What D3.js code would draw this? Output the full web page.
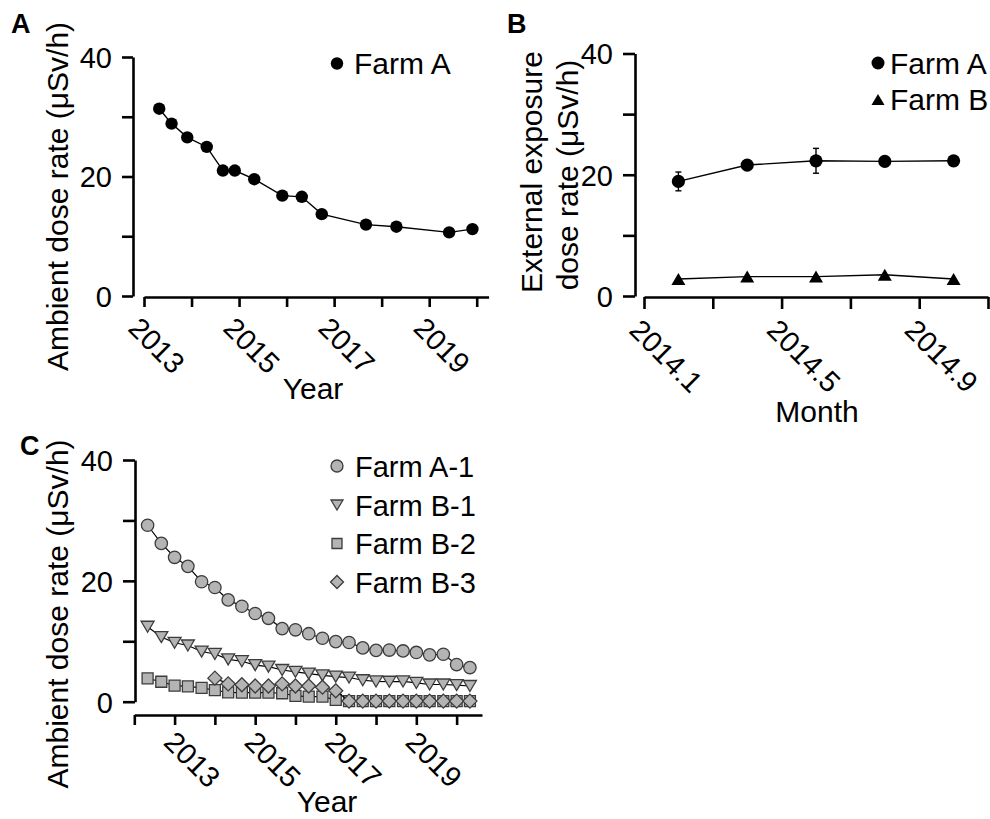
<!DOCTYPE html>
<html>
<head>
<meta charset="utf-8">
<script src="https://cdn.jsdelivr.net/npm/d3@7"></script>
<style>
  body { margin: 0; background: #fff; }
  text { font-family: "Liberation Sans", Arial, Helvetica, sans-serif; fill: #000; }
</style>
</head>
<body>
<svg id="fig" width="990" height="819"></svg>
<script>
// ---- Panel A: ambient dose rate, Farm A
var yearsA = [2013.32, 2013.58, 2013.91, 2014.32, 2014.66, 2014.91, 2015.32, 2015.91, 2016.32, 2016.74, 2017.67, 2018.31, 2019.42, 2019.91];
var doseA  = [31.35, 28.85, 26.55, 24.95, 21.0, 21.0, 19.55, 16.8, 16.6, 13.7, 11.95, 11.6, 10.65, 11.2];
var yearTicksA = [2013, 2014, 2015, 2016, 2017, 2018, 2019, 2020];
var yearLabels = [2013, 2015, 2017, 2019];

// ---- Panel B: external exposure dose rate by month (2014)
var monthsB = [2, 4, 6, 8, 10];
var farmA_B = [18.9, 21.6, 22.3, 22.2, 22.3];
var farmA_Berr = [1.55, 0.4, 2.05, 0.4, 0.4];
var farmB_B = [2.8, 3.2, 3.2, 3.5, 2.8];
var monthTicks = [1, 3, 5, 7, 9, 11];
var monthLabels = {1: "2014.1", 5: "2014.5", 9: "2014.9"};

// ---- Panel C: ambient dose rate, four farms
var yearsC = [2012.33, 2012.67, 2013.00, 2013.33, 2013.67, 2014.00, 2014.33, 2014.67, 2015.00, 2015.33,
              2015.67, 2016.00, 2016.33, 2016.67, 2017.00, 2017.33, 2017.67, 2018.00, 2018.33, 2018.67,
              2019.00, 2019.33, 2019.67, 2020.00, 2020.33];
var farmA1 = [29.2, 26.2, 23.9, 22.4, 19.85, 18.9, 16.85, 15.8, 14.6, 13.8, 12.1, 11.9, 11.25, 10.5, 9.95,
              9.8, 8.9, 8.5, 8.55, 8.4, 8.15, 7.75, 7.85, 6.15, 5.65];
var farmB1 = [12.4, 10.7, 9.75, 9.3, 8.3, 7.9, 7.0, 6.7, 6.05, 5.8, 5.25, 4.95, 4.65, 4.35, 4.15,
              4.0, 3.55, 3.35, 3.3, 3.35, 3.1, 2.85, 2.85, 2.75, 2.6];
var farmB2 = [3.85, 3.3, 2.65, 2.55, 2.3, 1.9, 1.55, 1.5, 1.5, 1.5, 1.4, 0.95, 0.85, 0.85, 0.3,
              0.1, 0.1, 0.1, 0.1, 0.1, 0.1, 0.1, 0.1, 0.1, 0.1];
var farmB3 = [null, null, null, null, null, 3.9, 2.95, 2.8, 2.6, 2.6, 2.95, 2.6, 2.6, 2.4, 1.8,
              0.1, 0.1, 0.1, 0.1, 0.1, 0.1, 0.1, 0.1, 0.1, 0.1];
var yearTicksC = [2012, 2013, 2014, 2015, 2016, 2017, 2018, 2019, 2020];

var doseTicks = [0, 10, 20, 30, 40];

var svg = d3.select("#fig");
var AXW = 2.6, FS = 29, TFS = 30;
var GRAY = "#b4b4b4", EDGE = "#3c3c3c";

// symbol paths centred on the bounding box
function triUp(w, h) { return "M0," + (-h / 2) + "L" + (w / 2) + "," + (h / 2) + "L" + (-w / 2) + "," + (h / 2) + "Z"; }
function triDown(w, h) { return "M0," + (h / 2) + "L" + (w / 2) + "," + (-h / 2) + "L" + (-w / 2) + "," + (-h / 2) + "Z"; }
function square(s) { return "M" + (-s / 2) + "," + (-s / 2) + "h" + s + "v" + s + "h" + (-s) + "Z"; }
function diamond(s) { return "M0," + (-s / 2) + "L" + (s / 2) + ",0L0," + (s / 2) + "L" + (-s / 2) + ",0Z"; }

function styleAxis(g) {
  g.attr("font-size", FS).attr("font-family", null);
  g.select(".domain").attr("stroke", "#000").attr("stroke-width", AXW);
  g.selectAll(".tick line").attr("stroke", "#000").attr("stroke-width", AXW);
}

function yAxis(y, x0, len) {
  var g = svg.append("g").attr("transform", "translate(" + x0 + ",0)")
    .call(d3.axisLeft(y).tickValues(doseTicks)
      .tickFormat(function (d) { return d % 20 === 0 ? d : ""; })
      .tickSize(len).tickSizeOuter(0).tickPadding(10));
  styleAxis(g);
  g.selectAll(".tick text").attr("dy", "0.36em");
  return g;
}

function xAxis(x, y0, ticks, fmt, len, dx, dy) {
  var g = svg.append("g").attr("transform", "translate(0," + y0 + ")")
    .call(d3.axisBottom(x).tickValues(ticks).tickFormat(fmt).tickSize(len).tickSizeOuter(0));
  styleAxis(g);
  g.selectAll(".tick text")
    .attr("text-anchor", "start").attr("x", 0).attr("y", 0).attr("dy", "0.72em")
    .attr("transform", "translate(" + dx + "," + dy + ") rotate(45)");
  return g;
}

function label(txt, x, y, opts) {
  opts = opts || {};
  var t = svg.append("text").attr("x", x).attr("y", y).text(txt)
    .attr("font-size", opts.size || FS)
    .attr("text-anchor", opts.anchor || "start");
  if (opts.bold) t.attr("font-weight", "bold");
  if (opts.rotate) t.attr("transform", "rotate(-90," + x + "," + y + ")");
  return t;
}

// ---------------- Panel A ----------------
(function () {
  var x = d3.scaleLinear().domain([2013, 2020.25]).range([144, 488.6]);
  var y = d3.scaleLinear().domain([0, 40]).range([296, 57]);
  yAxis(y, 133, 11);
  xAxis(x, 297, yearTicksA, function (d) { return yearLabels.indexOf(d) >= 0 ? d : ""; }, 10, -3, 18);

  var pts = yearsA.map(function (d, i) { return [x(d), y(doseA[i])]; });
  svg.append("path").attr("d", d3.line()(pts)).attr("fill", "none").attr("stroke", "#000").attr("stroke-width", 1.4);
  svg.append("g").selectAll("circle").data(pts).join("circle")
    .attr("cx", function (d) { return d[0]; }).attr("cy", function (d) { return d[1]; })
    .attr("r", 6.2).attr("fill", "#000");

  svg.append("circle").attr("cx", 337).attr("cy", 63.5).attr("r", 6.2).attr("fill", "#000");
  label("Farm A", 354, 74, { size: 30 });

  label("Ambient dose rate (\u03bcSv/h)", 68, 196.5, { rotate: true, anchor: "middle", size: TFS });
  label("Year", 313, 399, { anchor: "middle", size: TFS });
  label("A", 11, 33, { bold: true, size: 27 });
})();

// ---------------- Panel B ----------------
(function () {
  var x = d3.scaleLinear().domain([1, 11]).range([644, 988]);
  var y = d3.scaleLinear().domain([0, 40]).range([296, 53.5]);
  yAxis(y, 635, 12);
  xAxis(x, 297, monthTicks, function (d) { return monthLabels[d] || ""; }, 12, -2, 20);

  var ptsA = monthsB.map(function (d, i) { return [x(d), y(farmA_B[i])]; });
  var ptsB = monthsB.map(function (d, i) { return [x(d), y(farmB_B[i])]; });
  var line = d3.line();

  svg.append("path").attr("d", line(ptsB)).attr("fill", "none").attr("stroke", "#000").attr("stroke-width", 1.4);
  svg.append("g").selectAll("path").data(ptsB).join("path")
    .attr("d", triUp(14, 12))
    .attr("transform", function (d) { return "translate(" + d[0] + "," + d[1] + ")"; })
    .attr("fill", "#000");

  svg.append("path").attr("d", line(ptsA)).attr("fill", "none").attr("stroke", "#000").attr("stroke-width", 1.4);
  var eb = svg.append("g").attr("stroke", "#000").attr("stroke-width", 1.4);
  monthsB.forEach(function (m, i) {
    var cx = x(m), y1 = y(farmA_B[i] + farmA_Berr[i]), y2 = y(farmA_B[i] - farmA_Berr[i]);
    eb.append("line").attr("x1", cx).attr("x2", cx).attr("y1", y1).attr("y2", y2);
    eb.append("line").attr("x1", cx - 3).attr("x2", cx + 3).attr("y1", y1).attr("y2", y1);
    eb.append("line").attr("x1", cx - 3).attr("x2", cx + 3).attr("y1", y2).attr("y2", y2);
  });
  svg.append("g").selectAll("circle").data(ptsA).join("circle")
    .attr("cx", function (d) { return d[0]; }).attr("cy", function (d) { return d[1]; })
    .attr("r", 6.6).attr("fill", "#000");

  svg.append("circle").attr("cx", 878).attr("cy", 63).attr("r", 6.5).attr("fill", "#000");
  label("Farm A", 890, 73.5, { size: 30 });
  svg.append("path").attr("d", triUp(13, 11)).attr("transform", "translate(878,99.5)").attr("fill", "#000");
  label("Farm B", 890, 110, { size: 30 });

  label("External exposure", 542, 172, { rotate: true, anchor: "middle", size: TFS });
  label("dose rate (\u03bcSv/h)", 578, 175, { rotate: true, anchor: "middle", size: TFS });
  label("Month", 817, 422, { anchor: "middle", size: TFS });
  label("B", 507, 33, { bold: true, size: 27 });
})();

// ---------------- Panel C ----------------
(function () {
  var x = d3.scaleLinear().domain([2012, 2020.63]).range([134.3, 482]);
  var y = d3.scaleLinear().domain([0, 40]).range([701.7, 460]);
  yAxis(y, 135, 12);
  xAxis(x, 715, yearTicksC, function (d) { return yearLabels.indexOf(d) >= 0 ? d : ""; }, 10, 2, 14);

  var series = [
    { vals: farmA1, shape: "circle" },
    { vals: farmB1, shape: triDown(13, 11) },
    { vals: farmB2, shape: square(11) },
    { vals: farmB3, shape: diamond(14) }
  ];
  var line = d3.line().defined(function (d) { return d[1] !== null; })
    .x(function (d) { return x(d[0]); }).y(function (d) { return y(d[1]); });

  series.forEach(function (s) {
    var pts = yearsC.map(function (d, i) { return [d, s.vals[i]]; });
    svg.append("path").attr("d", line(pts)).attr("fill", "none").attr("stroke", "#000").attr("stroke-width", 1.2);
    var valid = pts.filter(function (d) { return d[1] !== null; });
    var g = svg.append("g");
    if (s.shape === "circle") {
      g.selectAll("circle").data(valid).join("circle")
        .attr("cx", function (d) { return x(d[0]); }).attr("cy", function (d) { return y(d[1]); })
        .attr("r", 6.2).attr("fill", GRAY).attr("stroke", EDGE).attr("stroke-width", 1.3);
    } else {
      g.selectAll("path").data(valid).join("path")
        .attr("d", s.shape)
        .attr("transform", function (d) { return "translate(" + x(d[0]) + "," + y(d[1]) + ")"; })
        .attr("fill", GRAY).attr("stroke", EDGE).attr("stroke-width", 1.3);
    }
  });

  // legend
  var names = ["Farm A-1", "Farm B-1", "Farm B-2", "Farm B-3"];
  var rows = [466, 505, 543.5, 582];
  var legendShapes = [null, triDown(12, 10), square(10), diamond(13)];
  names.forEach(function (n, i) {
    if (i === 0) {
      svg.append("circle").attr("cx", 337).attr("cy", rows[i]).attr("r", 6)
        .attr("fill", GRAY).attr("stroke", EDGE).attr("stroke-width", 1.3);
    } else {
      svg.append("path").attr("d", legendShapes[i]).attr("transform", "translate(337," + rows[i] + ")")
        .attr("fill", GRAY).attr("stroke", EDGE).attr("stroke-width", 1.3);
    }
    label(n, 355, rows[i] + 10.5, { size: 29 });
  });

  label("Ambient dose rate (\u03bcSv/h)", 68, 614, { rotate: true, anchor: "middle", size: TFS });
  label("Year", 327, 812, { anchor: "middle", size: TFS });
  label("C", 20, 455, { bold: true, size: 27 });
})();
</script>
</body>
</html>
